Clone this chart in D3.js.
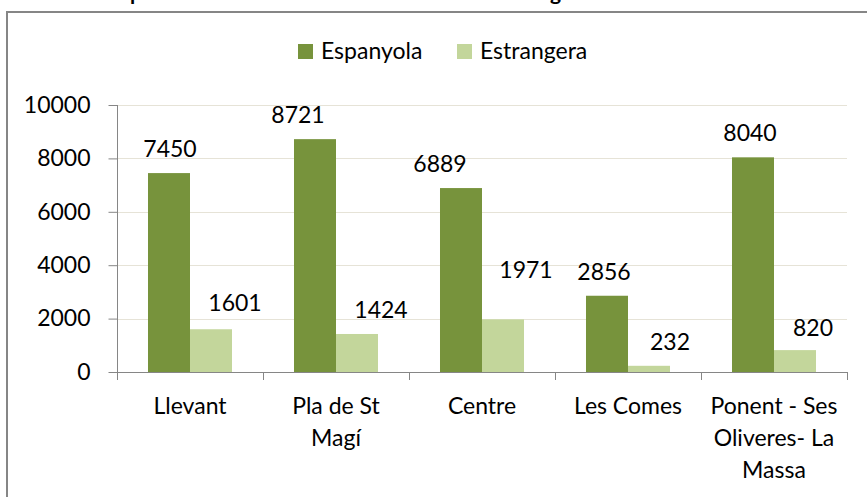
<!DOCTYPE html>
<html>
<head>
<meta charset="utf-8">
<script src="https://cdn.jsdelivr.net/npm/d3@7/dist/d3.min.js"></script>
<style>
  html, body { margin: 0; padding: 0; background: #fff; }
  svg { display: block; }
  text { font-family: Lato, "Open Sans", sans-serif; fill: #000; }
</style>
</head>
<body>
<svg id="chart" width="867" height="497"></svg>
<script>
// Population by district and nationality
const categories = ["Llevant", "Pla de St Magí", "Centre", "Les Comes", "Ponent - Ses Oliveres- La Massa"];
const categoryLines = [["Llevant"], ["Pla de St", "Magí"], ["Centre"], ["Les Comes"], ["Ponent - Ses", "Oliveres- La", "Massa"]];
const seriesNames = ["Espanyola", "Estrangera"];
const espanyola = [7450, 8721, 6889, 2856, 8040];
const estrangera = [1601, 1424, 1971, 232, 820];
const yTicks = [0, 2000, 4000, 6000, 8000, 10000];
const titleText = "Població per districtes de residència i nacionalitat d'origen";

// label nudges [dx, dy] per series, per category (hand-placed labels)
const labelNudge = [
  [[1, 0], [-17, 0], [-21, 0], [-3, 0], [-3, 0]],
  [[24, -2], [24, 0], [23, -25], [21, 0], [18, 2]]
];

const colors = ["#77933C", "#C3D69B"];
const values = [espanyola, estrangera];
const fontSize = 23;

const svg = d3.select("#chart");

// chart frame (right and bottom edges fall outside the view)
svg.append("path")
  .attr("d", "M7,520 L7,12 L880,12")
  .attr("fill", "none")
  .attr("stroke", "#868686")
  .attr("stroke-width", 2);

// title, mostly above the visible area
const title = svg.append("text")
  .attr("y", 0)
  .attr("font-weight", "bold")
  .attr("font-size", 21)
  .text(titleText);
const preW = title.node().getSubStringLength(0, titleText.indexOf("per"));
title.attr("x", 130 - preW);

const plot = { left: 117, right: 847, top: 105, bottom: 372 };

const y = d3.scaleLinear().domain([0, 10000]).range([plot.bottom, plot.top]);
const x0 = d3.scaleBand().domain(categories).range([plot.left, plot.right]).paddingInner(0).paddingOuter(0);
const x1 = d3.scaleBand().domain(seriesNames).range([0, x0.bandwidth()]).paddingInner(0).paddingOuter(0.738);

// gridlines
svg.append("g")
  .selectAll("line")
  .data(yTicks.filter(t => t > 0))
  .join("line")
  .attr("x1", plot.left).attr("x2", plot.right)
  .attr("y1", d => Math.round(y(d)) + 0.5).attr("y2", d => Math.round(y(d)) + 0.5)
  .attr("stroke", "#E6E3D7")
  .attr("stroke-width", 1);

// bars
const groups = svg.append("g")
  .selectAll("g")
  .data(categories)
  .join("g")
  .attr("transform", c => `translate(${x0(c)},0)`);

groups.selectAll("rect")
  .data((c, i) => seriesNames.map((s, k) => ({ s, k, i, v: values[k][i] })))
  .join("rect")
  .attr("x", d => x1(d.s))
  .attr("width", x1.bandwidth())
  .attr("y", d => y(d.v))
  .attr("height", d => y(0) - y(d.v))
  .attr("fill", d => colors[d.k]);

// value labels
groups.selectAll("text.val")
  .data((c, i) => seriesNames.map((s, k) => ({ s, k, i, v: values[k][i] })))
  .join("text")
  .attr("class", "val")
  .attr("text-anchor", "middle")
  .attr("font-size", fontSize)
  .attr("x", d => x1(d.s) + x1.bandwidth() / 2 + labelNudge[d.k][d.i][0])
  .attr("y", d => y(d.v) - 16 + labelNudge[d.k][d.i][1])
  .text(d => d.v);

// y axis
const yAxis = svg.append("g")
  .attr("transform", `translate(${plot.left + 0.5},0)`)
  .call(d3.axisLeft(y).tickValues(yTicks).tickSize(9).tickPadding(18).tickFormat(d3.format("d")));
yAxis.select(".domain").attr("stroke", "#868686").attr("d", `M0,${plot.top}V${plot.bottom + 8}`);
yAxis.selectAll(".tick line").attr("stroke", "#868686");
yAxis.selectAll(".tick text")
  .attr("font-size", fontSize)
  .attr("font-family", "Lato, 'Open Sans', sans-serif")
  .attr("fill", "#000");

// x axis line and boundary ticks
const xAxis = svg.append("g");
xAxis.append("line")
  .attr("x1", plot.left).attr("x2", plot.right)
  .attr("y1", plot.bottom + 0.5).attr("y2", plot.bottom + 0.5)
  .attr("stroke", "#868686");
const bounds = categories.map(c => x0(c)).concat([x0.range()[1]]);
xAxis.selectAll("line.tick")
  .data(bounds)
  .join("line")
  .attr("class", "tick")
  .attr("x1", d => Math.round(d) + 0.5).attr("x2", d => Math.round(d) + 0.5)
  .attr("y1", plot.bottom).attr("y2", plot.bottom + 8)
  .attr("stroke", "#868686");

// category labels
xAxis.selectAll("text")
  .data(categories)
  .join("text")
  .attr("text-anchor", "middle")
  .attr("font-size", fontSize)
  .attr("x", c => x0(c) + x0.bandwidth() / 2)
  .attr("y", 414)
  .each(function (c, i) {
    d3.select(this).selectAll("tspan")
      .data(categoryLines[i])
      .join("tspan")
      .attr("x", x0(c) + x0.bandwidth() / 2)
      .attr("dy", (l, j) => j === 0 ? 0 : 32)
      .text(l => l);
  });

// legend
const legend = svg.append("g");
const legendX = [298, 457];
seriesNames.forEach((s, k) => {
  legend.append("rect")
    .attr("x", legendX[k]).attr("y", 44)
    .attr("width", 15).attr("height", 15)
    .attr("fill", colors[k]);
  legend.append("text")
    .attr("x", legendX[k] + 23).attr("y", 59)
    .attr("font-size", fontSize)
    .text(s);
});
</script>
</body>
</html>
